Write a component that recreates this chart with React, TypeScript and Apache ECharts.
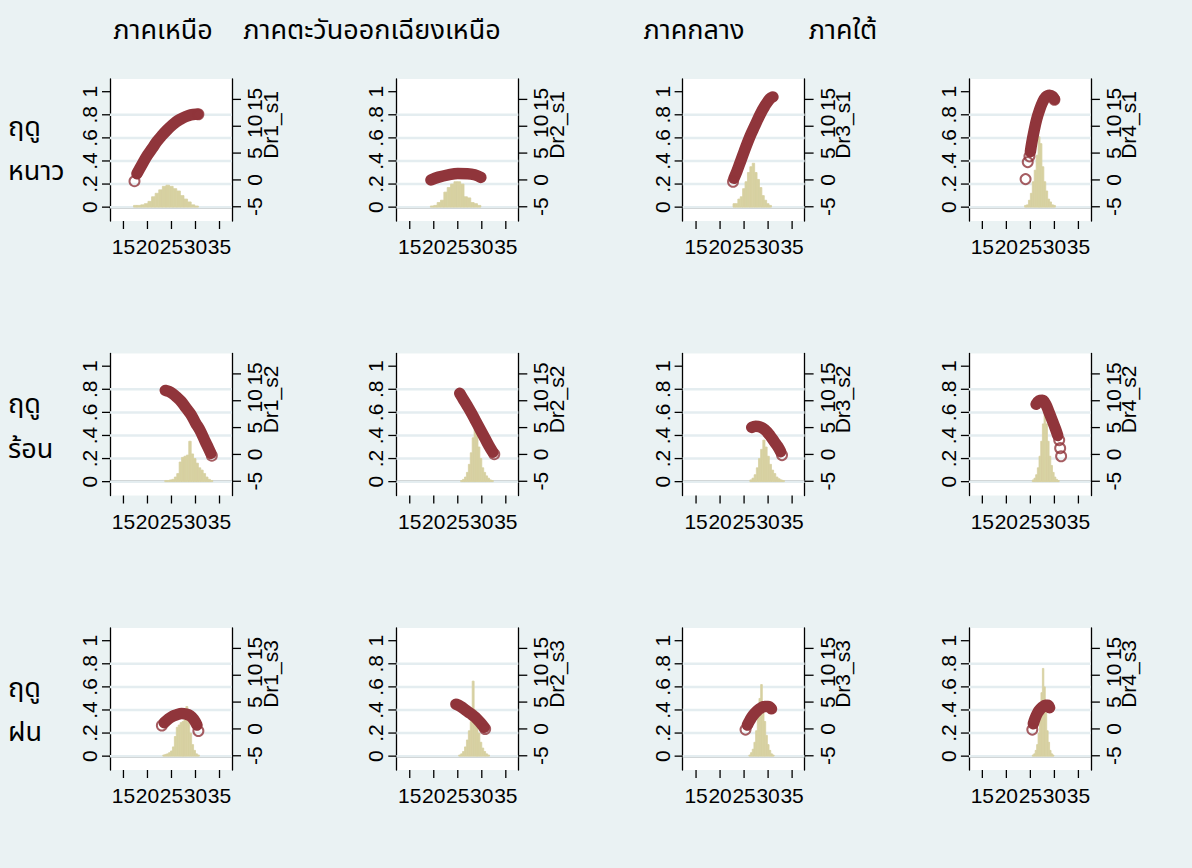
import React, { useEffect, useRef } from "react";
import * as echarts from "echarts";

// Column (region) and row (season) headings
const regions = ["ภาคเหนือ", "ภาคตะวันออกเฉียงเหนือ", "ภาคกลาง", "ภาคใต้"];
const regionTitleX = [163, 372, 694, 843];
const seasons = [
  ["ฤดู", "หนาว"],
  ["ฤดู", "ร้อน"],
  ["ฤดู", "ฝน"],
];
const seasonLabelY = [
  [127, 171],
  [404, 449],
  [688, 732],
];

// Axis ticks
const xTicks = [15, 20, 25, 30, 35];
const leftTicks = [0, 0.2, 0.4, 0.6, 0.8, 1];
const rightTicks = [-5, 0, 5, 10, 15];
const gridLines = [0, 0.2, 0.4, 0.6, 0.8];

// Fitted curves (temperature, effect) per season row / region column
const curve_s1_r1 = [[17.8, 0.29], [19, 0.38], [20, 0.45], [21, 0.51], [22, 0.57], [23, 0.62], [24, 0.665], [25, 0.705], [26, 0.74], [27, 0.765], [28, 0.785], [29, 0.8], [30, 0.805], [30.5, 0.805]];
const curve_s1_r2 = [[19.4, 0.235], [21, 0.26], [23, 0.28], [25, 0.292], [27, 0.29], [28.5, 0.28], [29.8, 0.258]];
const curve_s1_r3 = [[22.9, 0.25], [23.5, 0.31], [24.1, 0.378], [25, 0.48], [26.2, 0.61], [27.3, 0.71], [28.3, 0.8], [29.3, 0.875], [30.4, 0.94], [31.0, 0.955]];
const curve_s1_r4 = [[25.0, 0.48], [25.3, 0.56], [25.8, 0.667], [26.3, 0.76], [26.9, 0.84], [27.5, 0.905], [28.2, 0.955], [29.0, 0.97], [29.6, 0.96], [30.0, 0.935]];
const curve_s2_r1 = [[23.7, 0.79], [24.5, 0.78], [25.3, 0.76], [26, 0.735], [27, 0.695], [28, 0.64], [29, 0.585], [30, 0.51], [31, 0.44], [32, 0.35], [32.7, 0.29], [33.2, 0.245]];
const curve_s2_r2 = [[25.4, 0.765], [26.2, 0.71], [27, 0.655], [27.9, 0.59], [28.8, 0.52], [29.7, 0.45], [30.6, 0.38], [31.5, 0.31], [32.3, 0.255]];
const curve_s2_r3 = [[26.6, 0.47], [27.4, 0.48], [28.3, 0.475], [29.3, 0.45], [30.4, 0.4], [31.3, 0.345], [32.0, 0.305], [32.6, 0.26]];
const curve_s2_r4 = [[26.2, 0.67], [26.8, 0.7], [27.5, 0.705], [28.2, 0.67], [28.9, 0.6], [29.6, 0.525], [30.2, 0.46], [30.7, 0.4]];
const curve_s3_r1 = [[23.5, 0.29], [24.3, 0.32], [25.2, 0.345], [26.2, 0.36], [27.1, 0.37], [28, 0.365], [28.9, 0.35], [29.6, 0.32], [30.3, 0.27]];
const curve_s3_r2 = [[24.6, 0.45], [25.6, 0.43], [26.6, 0.4], [27.6, 0.37], [28.7, 0.335], [29.7, 0.29], [30.5, 0.25]];
const curve_s3_r3 = [[25.7, 0.27], [26.2, 0.31], [26.9, 0.355], [27.8, 0.395], [28.6, 0.42], [29.3, 0.43], [30.0, 0.43], [30.7, 0.41]];
const curve_s3_r4 = [[25.6, 0.28], [26.0, 0.33], [26.5, 0.375], [26.9, 0.4], [27.5, 0.425], [28.1, 0.44], [28.6, 0.44], [29.0, 0.42]];

// Isolated observations drawn as hollow markers
const points_s1_r1 = [[17.3, 0.225], [30.6, 0.805]];
const points_s1_r2: number[][] = [];
const points_s1_r3 = [[22.7, 0.22]];
const points_s1_r4 = [[24.0, 0.243], [24.45, 0.39], [24.8, 0.44], [30.0, 0.93]];
const points_s2_r1 = [[33.4, 0.225]];
const points_s2_r2 = [[32.6, 0.238]];
const points_s2_r3 = [[32.9, 0.23]];
const points_s2_r4 = [[31.0, 0.36], [31.2, 0.29], [31.4, 0.22]];
const points_s3_r1 = [[23.0, 0.266], [30.6, 0.218]];
const points_s3_r2 = [[30.7, 0.235]];
const points_s3_r3 = [[25.3, 0.23]];
const points_s3_r4 = [[25.4, 0.23]];

// Temperature histograms: first bin edge, bin width, bar heights
const histStart = [17.1, 19.3, 22.7, 23.8, 23.6, 25.6, 26.2, 25.4, 23.2, 25.2, 26.0, 25.4];
const histWidth = [0.75, 0.7, 0.5, 0.4, 0.5, 0.4, 0.45, 0.35, 0.4, 0.4, 0.35, 0.3];
const hist_s1_r1 = [0.015, 0.015, 0.02, 0.03, 0.05, 0.09, 0.12, 0.15, 0.18, 0.19, 0.18, 0.16, 0.14, 0.1, 0.07, 0.045, 0.02, 0.01];
const hist_s1_r2 = [0.01, 0.015, 0.04, 0.06, 0.13, 0.17, 0.2, 0.22, 0.22, 0.2, 0.09, 0.08, 0.04, 0.03, 0.015];
const hist_s1_r3 = [0.03, 0.03, 0.07, 0.09, 0.16, 0.22, 0.3, 0.35, 0.38, 0.3, 0.24, 0.17, 0.1, 0.06, 0.03, 0.015];
const hist_s1_r4 = [0.015, 0.02, 0.06, 0.12, 0.22, 0.32, 0.45, 0.61, 0.55, 0.35, 0.22, 0.14, 0.07, 0.045, 0.02, 0.015];
const hist_s2_r1 = [0.01, 0.01, 0.015, 0.02, 0.04, 0.07, 0.17, 0.21, 0.22, 0.23, 0.35, 0.24, 0.2, 0.16, 0.12, 0.1, 0.07, 0.04, 0.02, 0.01];
const hist_s2_r2 = [0.01, 0.02, 0.04, 0.08, 0.15, 0.25, 0.38, 0.5, 0.42, 0.3, 0.2, 0.12, 0.08, 0.05, 0.03, 0.015, 0.01];
const hist_s2_r3 = [0.015, 0.03, 0.06, 0.12, 0.2, 0.28, 0.36, 0.3, 0.22, 0.15, 0.1, 0.07, 0.04, 0.025, 0.015, 0.01];
const hist_s2_r4 = [0.015, 0.03, 0.06, 0.12, 0.22, 0.35, 0.5, 0.63, 0.5, 0.35, 0.22, 0.14, 0.08, 0.04, 0.02, 0.01];
const hist_s3_r1 = [0.01, 0.015, 0.02, 0.03, 0.045, 0.08, 0.17, 0.25, 0.27, 0.29, 0.3, 0.32, 0.43, 0.3, 0.2, 0.1, 0.05, 0.02, 0.01];
const hist_s3_r2 = [0.01, 0.02, 0.04, 0.08, 0.14, 0.22, 0.3, 0.65, 0.4, 0.3, 0.2, 0.12, 0.07, 0.04, 0.02, 0.01];
const hist_s3_r3 = [0.01, 0.03, 0.06, 0.12, 0.22, 0.35, 0.5, 0.62, 0.45, 0.3, 0.18, 0.1, 0.05, 0.02, 0.01];
const hist_s3_r4 = [0.01, 0.02, 0.05, 0.1, 0.2, 0.35, 0.55, 0.76, 0.6, 0.4, 0.22, 0.12, 0.05, 0.02, 0.01];

const curves = [curve_s1_r1, curve_s1_r2, curve_s1_r3, curve_s1_r4, curve_s2_r1, curve_s2_r2, curve_s2_r3, curve_s2_r4, curve_s3_r1, curve_s3_r2, curve_s3_r3, curve_s3_r4];
const points = [points_s1_r1, points_s1_r2, points_s1_r3, points_s1_r4, points_s2_r1, points_s2_r2, points_s2_r3, points_s2_r4, points_s3_r1, points_s3_r2, points_s3_r3, points_s3_r4];
const hists = [hist_s1_r1, hist_s1_r2, hist_s1_r3, hist_s1_r4, hist_s2_r1, hist_s2_r2, hist_s2_r3, hist_s2_r4, hist_s3_r1, hist_s3_r2, hist_s3_r3, hist_s3_r4];

const BG = "#EAF2F3";
const RED = "#90353B";
const KHAKI = "#D7D1A1";
const NUM_FONT = '"Liberation Sans", Arial, Helvetica, sans-serif';
const THAI_FONT = '"Noto Sans Thai", "Noto Sans", "DejaVu Sans", "Liberation Sans", sans-serif';

const X_MIN = 12.2, X_MAX = 37.6;
const L_MIN = -0.12, L_MAX = 1.11;
const R_MIN = -7.65, R_MAX = 18.8;
const GRID_LEFT = 110, COL_STEP = 286.3, GRID_TOP = 79, ROW_STEP = 274.5;
const GRID_W = 122, GRID_H = 142;
const TICK_LEN = 8;

function tickSeries(i: number, yAxisIndex: number, values: number[], side: "bottom" | "left" | "right") {
  return {
    type: "custom", xAxisIndex: i, yAxisIndex, z: 5, silent: true, clip: false,
    data: values.map((v) => [v]),
    encode: side === "bottom" ? { x: 0 } : { y: 0 },
    renderItem: (_p: any, api: any) => {
      const v = api.value(0);
      let x1: number, y1: number, x2: number, y2: number;
      if (side === "bottom") {
        const p = api.coord([v, yAxisIndex % 2 === 0 ? L_MIN : R_MIN]);
        x1 = x2 = p[0]; y1 = p[1]; y2 = p[1] + TICK_LEN;
      } else if (side === "left") {
        const p = api.coord([X_MIN, v]);
        y1 = y2 = p[1]; x1 = p[0] - TICK_LEN; x2 = p[0];
      } else {
        const p = api.coord([X_MAX, v]);
        y1 = y2 = p[1]; x1 = p[0]; x2 = p[0] + TICK_LEN + 1;
      }
      return { type: "line", shape: { x1, y1, x2, y2 }, style: { stroke: "#000", lineWidth: 1.3 } };
    },
  };
}

function buildOption() {
  const grid: any[] = [];
  const xAxis: any[] = [];
  const yAxis: any[] = [];
  const series: any[] = [];
  const graphic: any[] = [];

  const axisLine = { show: true, lineStyle: { color: "#000", width: 1.3 } };
  const labelBase = { color: "#000", fontSize: 21, fontFamily: NUM_FONT };

  for (let r = 0; r < 3; r++) {
    for (let c = 0; c < 4; c++) {
      const i = r * 4 + c;
      const left = GRID_LEFT + c * COL_STEP;
      const top = GRID_TOP + r * ROW_STEP;
      grid.push({ left, top, width: GRID_W, height: GRID_H, show: true, backgroundColor: "#fff", borderWidth: 0 });
      xAxis.push({
        gridIndex: i, type: "value", min: X_MIN, max: X_MAX,
        axisLine, axisTick: { show: false },
        axisLabel: { ...labelBase, margin: 15, customValues: xTicks, hideOverlap: false },
        splitLine: { show: false },
      });
      yAxis.push({
        gridIndex: i, type: "value", position: "left", min: L_MIN, max: L_MAX,
        axisLine, axisTick: { show: false },
        axisLabel: {
          ...labelBase, margin: 10, rotate: 90, customValues: leftTicks, hideOverlap: false,
          formatter: (v: number) => (v === 0 || v === 1 ? String(v) : String(v).replace(/^0/, "")),
        },
        splitLine: { show: false },
      });
      yAxis.push({
        gridIndex: i, type: "value", position: "right", min: R_MIN, max: R_MAX,
        axisLine, axisTick: { show: false },
        axisLabel: { ...labelBase, margin: 12, rotate: 90, customValues: rightTicks, hideOverlap: false },
        splitLine: { show: false },
      });

      // horizontal grid lines
      series.push({
        type: "custom", xAxisIndex: i, yAxisIndex: 2 * i, z: 1, silent: true,
        data: gridLines.map((v) => [v]),
        encode: { y: 0 },
        renderItem: (_p: any, api: any) => {
          const a = api.coord([X_MIN, api.value(0)]);
          const b = api.coord([X_MAX, api.value(0)]);
          return { type: "line", shape: { x1: a[0], y1: a[1], x2: b[0], y2: b[1] }, style: { stroke: "#E4EDF0", lineWidth: 2.5 } };
        },
      });

      // histogram bars
      const h = hists[i];
      series.push({
        type: "custom", xAxisIndex: i, yAxisIndex: 2 * i, z: 2, silent: true,
        data: h.map((v, k) => [histStart[i] + k * histWidth[i], histStart[i] + (k + 1) * histWidth[i], v]),
        encode: { x: [0, 1], y: 2 },
        renderItem: (_p: any, api: any) => {
          const p0 = api.coord([api.value(0), 0]);
          const p1 = api.coord([api.value(1), api.value(2)]);
          return {
            type: "rect",
            shape: { x: p0[0], y: p1[1], width: p1[0] - p0[0], height: p0[1] - p1[1] },
            style: { fill: KHAKI, stroke: KHAKI, lineWidth: 0.8 },
          };
        },
      });

      // dense fitted curve
      series.push({
        type: "line", xAxisIndex: i, yAxisIndex: 2 * i, z: 3, silent: true,
        data: curves[i], smooth: 0.4, symbol: "none",
        lineStyle: { color: RED, width: 11.5, cap: "round", join: "round" },
      });

      // hollow markers
      series.push({
        type: "scatter", xAxisIndex: i, yAxisIndex: 2 * i, z: 4, silent: true,
        data: points[i], symbol: "circle", symbolSize: 10,
        itemStyle: { color: "rgba(255,255,255,0)", borderColor: RED, borderWidth: 2 },
      });

      // axis ticks
      series.push(tickSeries(i, 2 * i, xTicks, "bottom"));
      series.push(tickSeries(i, 2 * i, leftTicks, "left"));
      series.push(tickSeries(i, 2 * i + 1, rightTicks, "right"));

      // right axis title
      graphic.push({
        type: "text", x: left + GRID_W + 38, y: top + 46, rotation: Math.PI / 2,
        style: {
          text: `Dr${c + 1}_s${r + 1}`, fill: "#000", font: `21px ${NUM_FONT}`,
          textAlign: "center", textVerticalAlign: "middle", align: "center", verticalAlign: "middle",
        },
      });
    }
  }

  regions.forEach((t, c) => {
    graphic.push({
      type: "text", x: regionTitleX[c], y: 30,
      style: {
        text: t, fill: "#000", font: `27px ${THAI_FONT}`,
        textAlign: "center", textVerticalAlign: "middle", align: "center", verticalAlign: "middle",
      },
    });
  });
  seasons.forEach((pair, r) => {
    pair.forEach((t, k) => {
      graphic.push({
        type: "text", x: 8, y: seasonLabelY[r][k],
        style: {
          text: t, fill: "#000", font: `27px ${THAI_FONT}`,
          textAlign: "left", textVerticalAlign: "middle", align: "left", verticalAlign: "middle",
        },
      });
    });
  });

  return { backgroundColor: BG, animation: false, grid, xAxis, yAxis, series, graphic };
}

export default function App() {
  const ref = useRef<HTMLDivElement>(null);
  useEffect(() => {
    document.body.style.margin = "0";
    if (!ref.current) return;
    const chart = echarts.init(ref.current, undefined, { renderer: "svg" });
    chart.setOption(buildOption() as any);
    return () => chart.dispose();
  }, []);
  return <div ref={ref} style={{ width: 1192, height: 868 }} />;
}
